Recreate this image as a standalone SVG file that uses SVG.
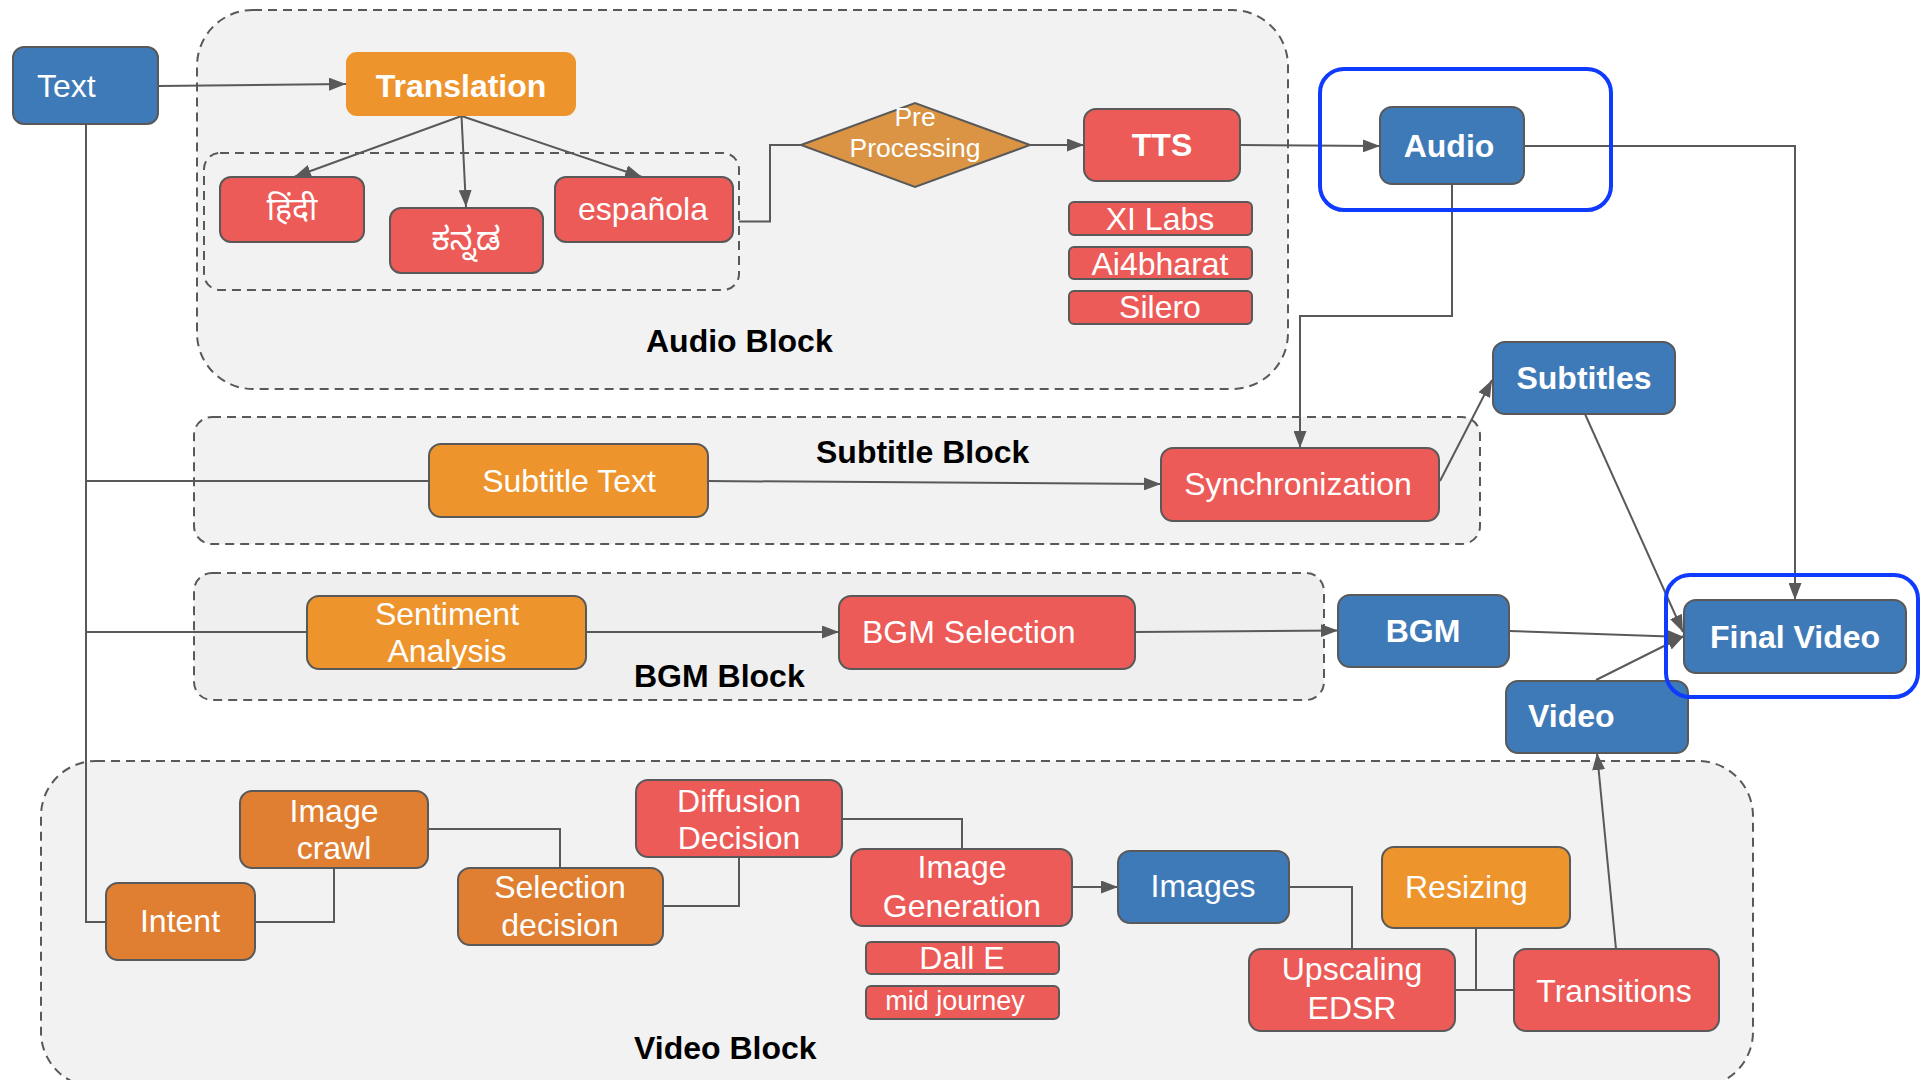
<svg xmlns="http://www.w3.org/2000/svg" width="1920" height="1080" viewBox="0 0 1920 1080">
<defs>
<style>
.cont{fill:#F2F2F2;stroke:#595959;stroke-width:2;stroke-dasharray:9 6}
.blue{fill:#3F7AB8;stroke:#595959;stroke-width:2}
.red{fill:#EC5B57;stroke:#595959;stroke-width:2}
.org{fill:#EE942D;stroke:#595959;stroke-width:2}
.dorg{fill:#E07F32;stroke:#595959;stroke-width:2}
.hl{fill:none;stroke:#0F3BFF;stroke-width:4}
.c{fill:none;stroke:#595959;stroke-width:2}
.a{marker-end:url(#ah)}
text{font-family:"Liberation Sans",Arial,sans-serif;font-size:32px;fill:#FFFFFF}
.m{text-anchor:middle}
.b{font-weight:bold}
.lbl{font-weight:bold;fill:#000000}
.s26{font-size:26.5px}
.s27{font-size:27px}
</style>
<marker id="ah" markerUnits="userSpaceOnUse" markerWidth="17" markerHeight="13" refX="17" refY="6.5" orient="auto">
<path d="M0,0 L17,6.5 L0,13 z" fill="#595959"/>
</marker>
</defs>
<rect width="1920" height="1080" fill="#FFFFFF"/>

<g id="containers">
<g id="audio-block"><rect class="cont" x="197" y="10" width="1091" height="379" rx="56"/><text class="lbl" x="646" y="352">Audio Block</text></g>
<g id="lang-group"><rect class="cont" x="204" y="153" width="535" height="137" rx="16"/></g>
<g id="subtitle-block"><rect class="cont" x="194" y="417" width="1286" height="127" rx="18"/><text class="lbl" x="816" y="463">Subtitle Block</text></g>
<g id="bgm-block"><rect class="cont" x="194" y="573" width="1130" height="127" rx="18" style="fill:#EFEFEF"/><text class="lbl" x="634" y="687">BGM Block</text></g>
<g id="video-block"><rect class="cont" x="41" y="761" width="1712" height="326" rx="55"/><text class="lbl" x="634" y="1059">Video Block</text></g>
</g>

<g id="connectors">
<path class="c a" d="M158,86 L346,84"/>
<path class="c a" d="M461.5,116 L294,177"/>
<path class="c a" d="M461.5,116 L466,207"/>
<path class="c a" d="M461.5,116 L642,177"/>
<path class="c" d="M739,221.5 L770,221.5 L770,145 L801,145"/>
<path class="c a" d="M1030,145 L1084,145"/>
<path class="c a" d="M1240,145 L1380,146"/>
<path class="c a" d="M1524,146 L1795,146 L1795,600"/>
<path class="c a" d="M1452,184 L1452,316 L1300,316 L1300,448"/>
<path class="c a" d="M1440,481 L1492,380"/>
<path class="c a" d="M1585,414 L1683,632"/>
<path class="c a" d="M1509,631 L1684,637"/>
<path class="c a" d="M1596,680 L1684,636"/>
<path class="c" d="M86,124 L86,922 L106,922"/>
<path class="c" d="M86,481 L429,481"/>
<path class="c a" d="M707,481 L1161,484"/>
<path class="c" d="M86,632 L307,632"/>
<path class="c a" d="M585,632 L839,632"/>
<path class="c a" d="M1135,632 L1338,630.5"/>
<path class="c" d="M255,922 L334,922 L334,868"/>
<path class="c" d="M428,829 L560,829 L560,868"/>
<path class="c" d="M663,906 L739,906 L739,857"/>
<path class="c" d="M842,819 L962,819 L962,849"/>
<path class="c a" d="M1072,887 L1118,887"/>
<path class="c" d="M1289,887 L1352,887 L1352,949"/>
<path class="c" d="M1455,990 L1514,990"/>
<path class="c" d="M1476,928 L1476,990"/>
<path class="c a" d="M1616,949 L1597,753"/>
</g>

<g id="n-text"><rect class="blue" x="13" y="47" width="145" height="77" rx="11"/><text x="37" y="97">Text</text></g>
<g id="n-translation"><rect x="346" y="52" width="230" height="64" rx="11" fill="#EE942D"/><text class="m b" x="461" y="97">Translation</text></g>
<g id="n-hindi"><rect class="red" x="220" y="177" width="144" height="65" rx="11"/><text class="m" x="292" y="220" style="font-family:'Noto Sans Devanagari','Lohit Devanagari','Noto Sans',sans-serif">हिंदी</text></g>
<g id="n-kannada"><rect class="red" x="390" y="208" width="153" height="65" rx="11"/><text class="m" x="466" y="250" style="font-family:'Noto Sans Kannada','Lohit Kannada','Noto Sans',sans-serif">ಕನ್ನಡ</text></g>
<g id="n-espanola"><rect class="red" x="555" y="177" width="178" height="65" rx="11"/><text class="m" x="643" y="220">española</text></g>
<g id="n-preprocessing"><polygon points="801,145 915,103 1030,145 915,187" fill="#DA9444" stroke="#595959" stroke-width="2"/><text class="m s26" x="915" y="126">Pre</text><text class="m s26" x="915" y="157">Processing</text></g>
<g id="n-tts"><rect class="red" x="1084" y="109" width="156" height="72" rx="12"/><text class="m b" x="1162" y="156">TTS</text></g>
<g id="n-xilabs"><rect class="red" x="1069" y="202" width="183" height="33" rx="5"/><text class="m" x="1160" y="230">XI Labs</text></g>
<g id="n-ai4bharat"><rect class="red" x="1069" y="247" width="183" height="32" rx="5"/><text class="m" x="1160" y="275">Ai4bharat</text></g>
<g id="n-silero"><rect class="red" x="1069" y="291" width="183" height="33" rx="5"/><text class="m" x="1160" y="318">Silero</text></g>
<g id="n-audio"><rect class="blue" x="1380" y="107" width="144" height="77" rx="12"/><text class="m b" x="1449" y="157">Audio</text></g>
<g id="n-subtitles"><rect class="blue" x="1493" y="342" width="182" height="72" rx="12"/><text class="m b" x="1584" y="389">Subtitles</text></g>
<g id="n-subtitletext"><rect class="org" x="429" y="444" width="279" height="73" rx="12"/><text class="m" x="569" y="492">Subtitle Text</text></g>
<g id="n-sync"><rect class="red" x="1161" y="448" width="278" height="73" rx="12"/><text class="m" x="1298" y="495">Synchronization</text></g>
<g id="n-sentiment"><rect class="org" x="307" y="596" width="279" height="73" rx="12"/><text class="m" x="447" y="625">Sentiment</text><text class="m" x="447" y="662">Analysis</text></g>
<g id="n-bgmselection"><rect class="red" x="839" y="596" width="296" height="73" rx="12"/><text x="862" y="643">BGM Selection</text></g>
<g id="n-bgm"><rect class="blue" x="1338" y="595" width="171" height="72" rx="12"/><text class="m b" x="1423" y="642">BGM</text></g>
<g id="n-finalvideo"><rect class="blue" x="1684" y="600" width="222" height="73" rx="12"/><text class="m b" x="1795" y="648">Final Video</text></g>
<g id="n-video"><rect class="blue" x="1506" y="681" width="182" height="72" rx="12"/><text class="b" x="1528" y="727">Video</text></g>
<g id="n-imagecrawl"><rect class="dorg" x="240" y="791" width="188" height="77" rx="12"/><text class="m" x="334" y="822">Image</text><text class="m" x="334" y="859">crawl</text></g>
<g id="n-intent"><rect class="dorg" x="106" y="883" width="149" height="77" rx="12"/><text class="m" x="180" y="932">Intent</text></g>
<g id="n-selection"><rect class="dorg" x="458" y="868" width="205" height="77" rx="12"/><text class="m" x="560" y="898">Selection</text><text class="m" x="560" y="936">decision</text></g>
<g id="n-diffusion"><rect class="red" x="636" y="780" width="206" height="77" rx="12"/><text class="m" x="739" y="812">Diffusion</text><text class="m" x="739" y="849">Decision</text></g>
<g id="n-imagegen"><rect class="red" x="851" y="849" width="221" height="77" rx="12"/><text class="m" x="962" y="878">Image</text><text class="m" x="962" y="917">Generation</text></g>
<g id="n-dalle"><rect class="red" x="866" y="942" width="193" height="32" rx="5"/><text class="m" x="962" y="969">Dall E</text></g>
<g id="n-midjourney"><rect class="red" x="866" y="986" width="193" height="33" rx="5"/><text class="m s27" x="955" y="1010">mid journey</text></g>
<g id="n-images"><rect class="blue" x="1118" y="851" width="171" height="72" rx="12"/><text class="m" x="1203" y="897">Images</text></g>
<g id="n-resizing"><rect class="org" x="1382" y="847" width="188" height="81" rx="12"/><text x="1405" y="898">Resizing</text></g>
<g id="n-upscaling"><rect class="red" x="1249" y="949" width="206" height="82" rx="12"/><text class="m" x="1352" y="980">Upscaling</text><text class="m" x="1352" y="1019">EDSR</text></g>
<g id="n-transitions"><rect class="red" x="1514" y="949" width="205" height="82" rx="12"/><text class="m" x="1614" y="1002">Transitions</text></g>

<g id="highlights">
<rect class="hl" x="1320" y="69" width="291" height="141" rx="24"/>
<rect class="hl" x="1666" y="575" width="252" height="122" rx="24"/>
</g>
</svg>
